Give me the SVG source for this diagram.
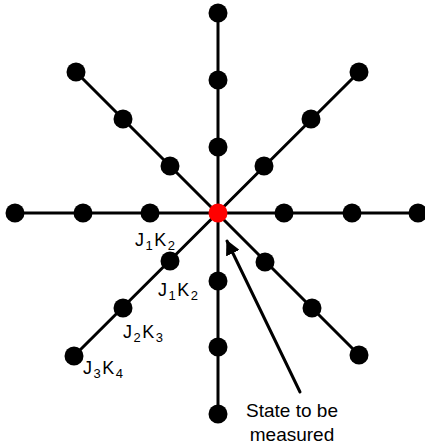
<svg xmlns="http://www.w3.org/2000/svg" width="425" height="448" viewBox="0 0 425 448">
<defs>
<style>
.e{stroke:#000;stroke-width:3;fill:none;stroke-linecap:round}
.n{fill:#000}
.c{fill:#ff0000}
.t{font-family:"Liberation Sans",Arial,sans-serif;font-size:18px;fill:#000;letter-spacing:1.5px}
.s{font-size:13px}
.lbl{font-family:"Liberation Sans",Arial,sans-serif;font-size:19px;fill:#000;text-anchor:middle}
</style>
<marker id="ah" viewBox="0 0 10 10" refX="9" refY="5" markerWidth="5" markerHeight="5" orient="auto-start-reverse" markerUnits="strokeWidth">
<path d="M0,0 L10,5 L0,10 Z" fill="#000"/>
</marker>
</defs>
<rect width="425" height="448" fill="#fff"/>
<g id="connectors">
<line class="e" x1="218" y1="13" x2="218" y2="414"/>
<line class="e" x1="15" y1="213" x2="418" y2="213"/>
<line class="e" x1="76" y1="72" x2="359" y2="355"/>
<line class="e" x1="359" y1="72" x2="74" y2="356"/>
<path class="e" d="M300,392 Q265,320 227,241" stroke-width="2.5" marker-end="url(#ah)"/>
</g>
<g id="nodes">
<g id="n-up1"><circle class="n" cx="218" cy="13" r="9.5"/></g>
<g id="n-up2"><circle class="n" cx="218" cy="80" r="9.5"/></g>
<g id="n-up3"><circle class="n" cx="218" cy="147" r="9.5"/></g>
<g id="n-dn1"><circle class="n" cx="218" cy="281" r="9.5"/></g>
<g id="n-dn2"><circle class="n" cx="218" cy="347" r="9.5"/></g>
<g id="n-dn3"><circle class="n" cx="218" cy="414" r="9.5"/></g>
<g id="n-l1"><circle class="n" cx="15" cy="213" r="9.5"/></g>
<g id="n-l2"><circle class="n" cx="83" cy="213" r="9.5"/></g>
<g id="n-l3"><circle class="n" cx="150" cy="213" r="9.5"/></g>
<g id="n-r1"><circle class="n" cx="284" cy="213" r="9.5"/></g>
<g id="n-r2"><circle class="n" cx="352" cy="213" r="9.5"/></g>
<g id="n-r3"><circle class="n" cx="418" cy="213" r="9.5"/></g>
<g id="n-ul1"><circle class="n" cx="76" cy="72" r="9.5"/></g>
<g id="n-ul2"><circle class="n" cx="123" cy="119" r="9.5"/></g>
<g id="n-ul3"><circle class="n" cx="170" cy="166" r="9.5"/></g>
<g id="n-ur1"><circle class="n" cx="359" cy="72" r="9.5"/></g>
<g id="n-ur2"><circle class="n" cx="311" cy="119" r="9.5"/></g>
<g id="n-ur3"><circle class="n" cx="264" cy="166" r="9.5"/></g>
<g id="n-dl1"><circle class="n" cx="170" cy="261" r="9.5"/></g>
<g id="n-dl2"><circle class="n" cx="123" cy="308" r="9.5"/></g>
<g id="n-dl3"><circle class="n" cx="74" cy="356" r="9.5"/></g>
<g id="n-dr1"><circle class="n" cx="265" cy="262" r="9.5"/></g>
<g id="n-dr2"><circle class="n" cx="312" cy="308" r="9.5"/></g>
<g id="n-dr3"><circle class="n" cx="359" cy="355" r="9.5"/></g>
<g id="n-center"><circle class="c" cx="218" cy="213" r="9.5"/></g>
</g>
<g id="labels">
<text class="t" x="135" y="246">J<tspan class="s" dy="4">1</tspan><tspan dy="-4">K</tspan><tspan class="s" dy="4">2</tspan></text>
<text class="t" x="158" y="296">J<tspan class="s" dy="4">1</tspan><tspan dy="-4">K</tspan><tspan class="s" dy="4">2</tspan></text>
<text class="t" x="123" y="338">J<tspan class="s" dy="4">2</tspan><tspan dy="-4">K</tspan><tspan class="s" dy="4">3</tspan></text>
<text class="t" x="83" y="374">J<tspan class="s" dy="4">3</tspan><tspan dy="-4">K</tspan><tspan class="s" dy="4">4</tspan></text>
<text class="lbl" x="292" y="417">State to be</text>
<text class="lbl" x="292" y="441">measured</text>
</g>
</svg>
